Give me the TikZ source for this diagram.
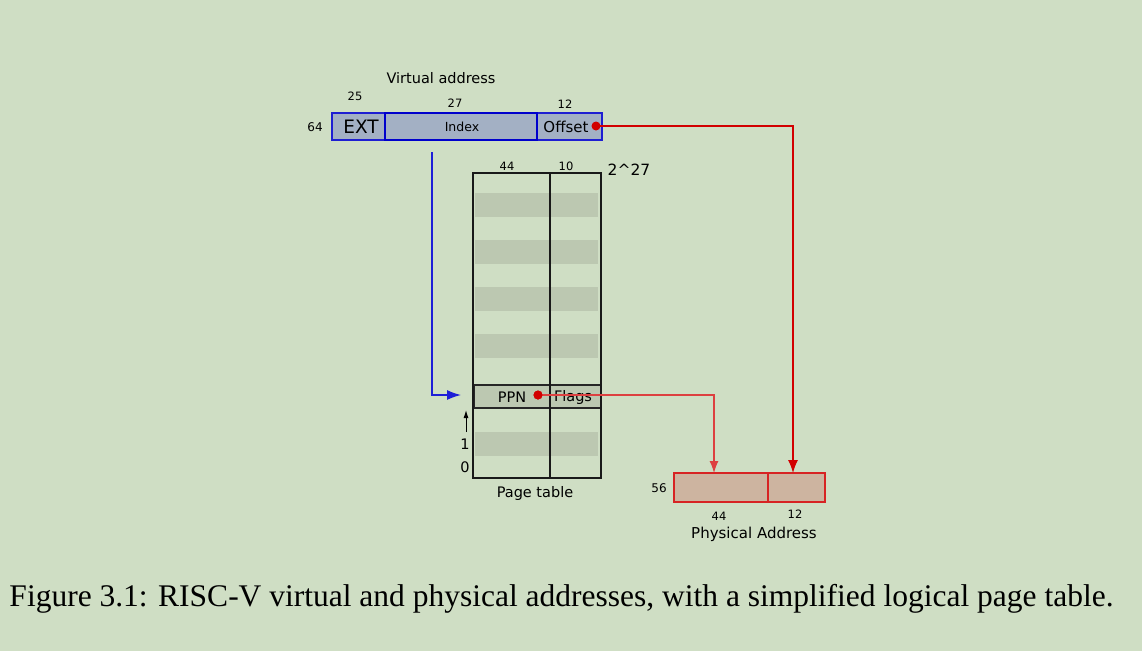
\documentclass[tikz,border=0pt]{standalone}
\usepackage{fontspec}
\setmainfont{DejaVu Sans}
\newfontfamily\capfont{Liberation Serif}
\usetikzlibrary{arrows.meta}
\definecolor{bg}{RGB}{207,222,196}
\definecolor{vafill}{RGB}{163,176,196}
\definecolor{vaedge}{RGB}{30,30,210}
\definecolor{pafill}{RGB}{205,180,160}
\definecolor{paedge}{RGB}{215,35,35}
\definecolor{stripe}{RGB}{188,200,177}
\definecolor{redline}{RGB}{210,0,0}
\definecolor{blueline}{RGB}{30,30,215}
\newcommand{\fs}[1]{\fontsize{#1}{#1}\selectfont}
\tikzset{
  lbl/.style={inner sep=0pt, anchor=center, text=black},
  vacell/.style={draw=vaedge, fill=vafill, line width=1.2pt},
  pacell/.style={draw=paedge, fill=pafill, line width=1.1pt},
  tableline/.style={draw=black!90, line width=1.5pt},
  dotred/.style={circle, fill=redline, inner sep=0pt, minimum size=9pt},
}
\begin{document}
\begin{tikzpicture}[x=1pt,y=-1pt]
\useasboundingbox[fill=bg] (0,0) rectangle (1142,651);
% virtual address
\draw[vacell] (332,113) rectangle (385,140);
\draw[vacell] (537,113) rectangle (602,140);
\draw[vacell, draw=blue!80!black, line width=1.9pt] (385,113) rectangle (537,140);
\node[lbl] (vatitle) at (441,78) {\fs{14.5}Virtual address};
\node[lbl] (n25) at (355,96) {\fs{11.5}25};
\node[lbl] (n27) at (455,103) {\fs{11.5}27};
\node[lbl] (n12a) at (565,104) {\fs{11.5}12};
\node[lbl] (n64) at (315,127) {\fs{12}64};
\node[lbl] (ext) at (361,127) {\fs{18.5}EXT};
\node[lbl] (index) at (462,127) {\fs{12.5}Index};
\node[lbl] (offset) at (566,127) {\fs{15}Offset};
\node[dotred] (offdot) at (596,126) {};
% page table stripes
\foreach \y in {193,240,287,334,432}{
  \fill[stripe] (475,\y) rectangle (598,\y+24);
}
% PPN row
\draw[fill=stripe, draw=black!85, line width=1.5pt] (474,385) rectangle (601,408);
% table frame
\draw[tableline] (473,173) rectangle (601,478);
\draw[tableline] (550,173) -- (550,478);
\node[lbl] (n44a) at (507,166) {\fs{11.5}44};
\node[lbl] (n10) at (566,166) {\fs{11.5}10};
\node[lbl] (n227) at (629,170) {\fs{15.5}2\^{}27};
\node[lbl] (ppn) at (512,397) {\fs{14.5}PPN};
\node[lbl] (flags) at (573,397) {\fs{14.5}Flags};
\node[dotred] (ppndot) at (538,395) {};
\node[lbl] (r1) at (465,444) {\fs{14.5}1};
\node[lbl] (r0) at (465,467) {\fs{14.5}0};
\node[lbl] (ptlabel) at (535,493) {\fs{14.5}Page table};
\coordinate (upa) at (466,432);
\coordinate (upb) at (466,410);
\draw[-{Latex[length=8pt,width=5pt]}, black, line width=1pt] (upa) -- (upb);
% physical address
\draw[pacell] (674,473) rectangle (768,502);
\draw[pacell] (768,473) rectangle (825,502);
\coordinate (pahi) at (714,473);
\coordinate (palo) at (793,473);
\node[lbl] (n56) at (659,488) {\fs{12}56};
\node[lbl] (n44b) at (719,516) {\fs{11.5}44};
\node[lbl] (n12b) at (795,514) {\fs{11.5}12};
\node[lbl] (palabel) at (754,534) {\fs{15}Physical Address};
% connectors
\coordinate (bstart) at (432,152);
\coordinate (bend) at (461,395);
\draw[blueline, line width=1.3pt, -{Latex[length=14pt,width=10pt]}] (bstart) |- (bend);
\draw[redline, line width=1.2pt, -{Latex[length=13pt,width=10pt]}] (offdot.center) -| (palo);
\draw[redline!75, line width=1.2pt, -{Latex[length=12pt,width=9pt]}] (ppndot.center) -| (pahi);
\node[dotred] at (ppndot) {};
% caption
\node[inner sep=0pt, anchor=base] (caption) at (561.5,606) {\capfont\fs{31.5}Figure 3.1: RISC-V virtual and physical addresses, with a simplified logical page table.};
\end{tikzpicture}
\end{document}
